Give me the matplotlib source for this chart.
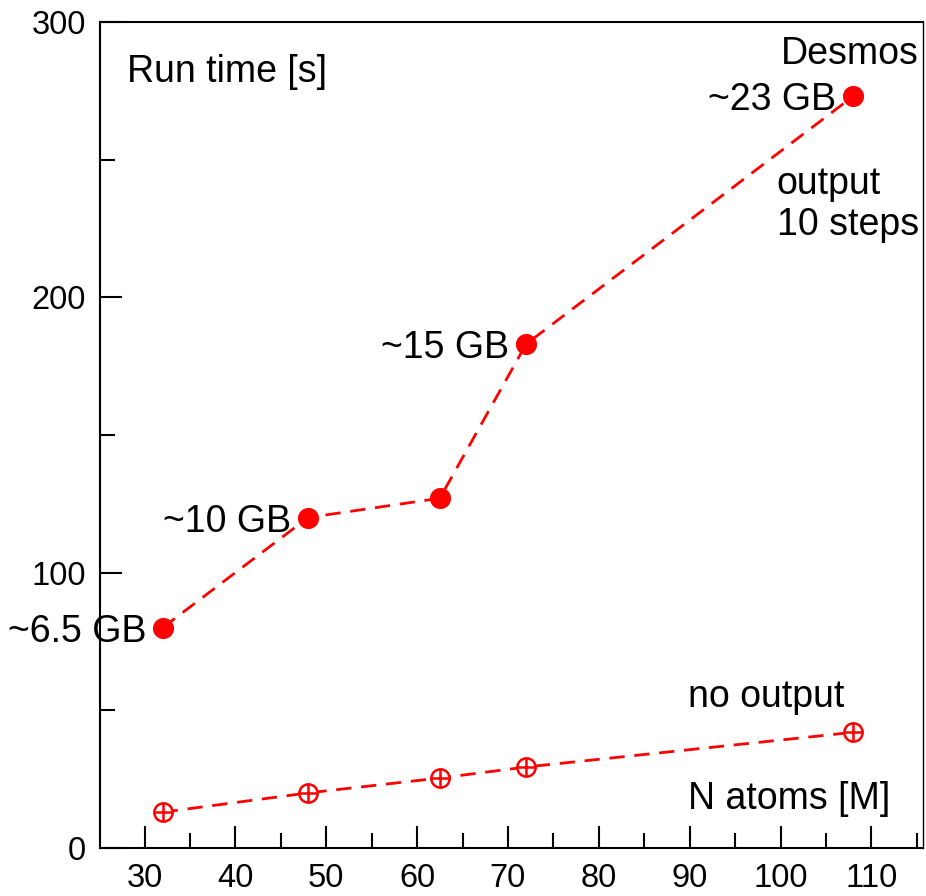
import matplotlib
matplotlib.use("Agg")
from matplotlib import pyplot as plt
from matplotlib.ticker import MultipleLocator

plt.rcParams['font.family'] = ['Liberation Sans', 'DejaVu Sans']

# N atoms [M] and run time [s]
n_atoms = [32, 48, 62.5, 72, 108]
time_output = [80, 120, 127, 183, 273]
time_no_output = [13, 20, 25.4, 29.4, 42]
mem_labels = ["~6.5 GB", "~10 GB", "~10 GB", "~15 GB", "~23 GB"]
mem_shown = [True, True, False, True, True]

fig = plt.figure(figsize=(9.26, 8.96), dpi=100)
ax = fig.add_axes([0.108, 0.0536, 0.889, 0.922])

red = "#ff0000"
ax.plot(n_atoms, time_output, color=red, lw=2, ls=(0, (5.5, 3.5)),
        marker="o", ms=14.2, mfc=red, mec=red)
ax.plot(n_atoms, time_no_output, color=red, lw=2, ls=(0, (5.5, 3.5)),
        marker="o", ms=13.2, mfc="white", mec=red, mew=1.8)
ax.plot(n_atoms, time_no_output, ls="none", marker="+", ms=13.2, mec=red, mew=1.8)

for x, y, lab, show in zip(n_atoms, time_output, mem_labels, mem_shown):
    if show:
        ax.annotate(lab, (x, y), xytext=(-12, 0), textcoords="offset points",
                    ha="right", va="center_baseline", fontsize=27)

ax.text(0.033, 0.944, "Run time [s]", transform=ax.transAxes, fontsize=27,
        ha="left", va="center_baseline")
ax.text(0.994, 0.966, "Desmos", transform=ax.transAxes, fontsize=27,
        ha="right", va="center_baseline")
ax.text(0.822, 0.779, "output\n10 steps", transform=ax.transAxes, fontsize=27,
        ha="left", va="center", linespacing=1.15)
ax.text(0.714, 0.188, "no output", transform=ax.transAxes, fontsize=27,
        ha="left", va="center_baseline")
ax.text(0.714, 0.064, "N atoms [M]", transform=ax.transAxes, fontsize=27,
        ha="left", va="center_baseline")

ax.set_xlim(25.1, 115.7)
ax.set_ylim(0, 300)
ax.xaxis.set_major_locator(MultipleLocator(10))
ax.xaxis.set_minor_locator(MultipleLocator(5))
ax.yaxis.set_major_locator(MultipleLocator(100))
ax.yaxis.set_minor_locator(MultipleLocator(50))
ax.tick_params(which="both", direction="in", width=1.5, labelsize=23.5)
ax.tick_params(which="major", length=16)
ax.tick_params(which="minor", length=11)
ax.tick_params(axis="x", which="major", pad=11)
ax.tick_params(axis="y", which="major", pad=10)
for s in ax.spines.values():
    s.set_linewidth(1.5)
ax.spines["right"].set_linewidth(1.0)

fig.savefig("out.png", dpi=100)
